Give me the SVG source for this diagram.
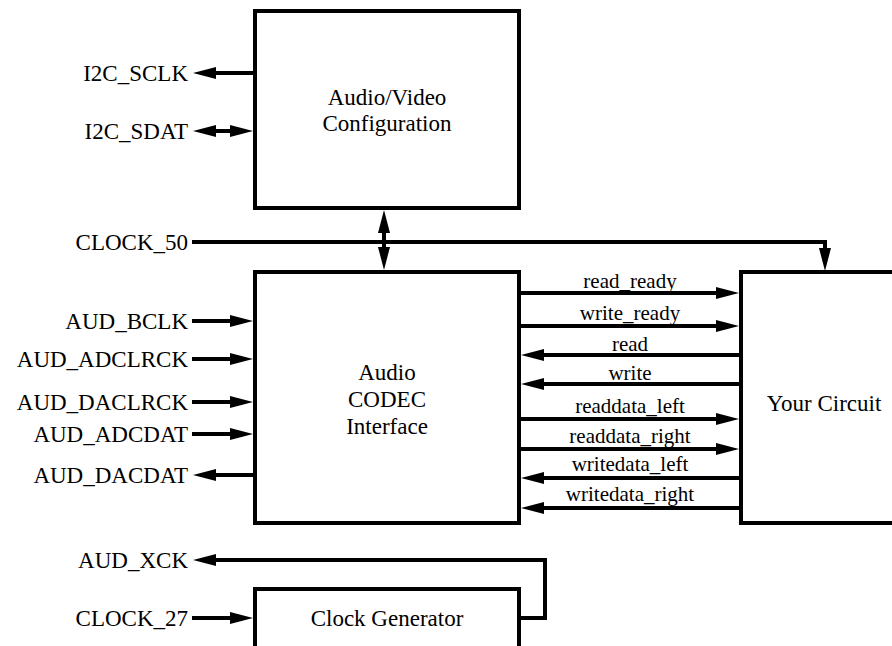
<svg xmlns="http://www.w3.org/2000/svg" width="892" height="646" viewBox="0 0 892 646">
<style>
.box{fill:#fff;stroke:#000;stroke-width:4}
.w{fill:none;stroke:#000;stroke-width:4}
text{font-family:"Liberation Serif","Times New Roman","DejaVu Serif",serif;font-size:23px;fill:#000}
.l{text-anchor:end}
.c{text-anchor:middle}
.s{font-size:21px;text-anchor:middle}
</style>
<defs>
<marker id="ah" markerUnits="userSpaceOnUse" viewBox="0 0 23 12" markerWidth="23" markerHeight="12" refX="0" refY="6" orient="auto-start-reverse"><path d="M0,0 L23,6 L0,12 z" fill="#000"/></marker>
</defs>
<rect width="892" height="646" fill="#fff"/>
<g id="avconfig"><rect class="box" x="255" y="11" width="264" height="197"/><text class="c" x="387" y="105">Audio/Video</text><text class="c" x="387" y="131">Configuration</text></g>
<g id="codec"><rect class="box" x="255" y="272" width="264" height="251"/><text class="c" x="387" y="380">Audio</text><text class="c" x="387" y="407">CODEC</text><text class="c" x="387" y="434">Interface</text></g>
<g id="circuit"><rect class="box" x="741" y="272" width="200" height="251"/><text class="c" x="824" y="411">Your Circuit</text></g>
<g id="clockgen"><rect class="box" x="255" y="589" width="264" height="100"/><text class="c" x="387" y="626">Clock Generator</text></g>
<g id="labels">
<text class="l" x="188" y="81">I2C_SCLK</text>
<text class="l" x="188" y="139">I2C_SDAT</text>
<text class="l" x="188" y="250">CLOCK_50</text>
<text class="l" x="188" y="329">AUD_BCLK</text>
<text class="l" x="188" y="367">AUD_ADCLRCK</text>
<text class="l" x="188" y="410">AUD_DACLRCK</text>
<text class="l" x="188" y="442">AUD_ADCDAT</text>
<text class="l" x="188" y="483">AUD_DACDAT</text>
<text class="l" x="188" y="568">AUD_XCK</text>
<text class="l" x="188" y="626">CLOCK_27</text>
<text class="s" x="630" y="288">read_ready</text>
<text class="s" x="630" y="320">write_ready</text>
<text class="s" x="630" y="351">read</text>
<text class="s" x="630" y="380">write</text>
<text class="s" x="630" y="413">readdata_left</text>
<text class="s" x="630" y="443">readdata_right</text>
<text class="s" x="630" y="471">writedata_left</text>
<text class="s" x="630" y="501">writedata_right</text>
</g>
<g id="connectors">
<path class="w" d="M255,73 H216" marker-end="url(#ah)"/>
<path class="w" d="M216,131 H230" marker-start="url(#ah)" marker-end="url(#ah)"/>
<path class="w" d="M192,242 H825 V248" marker-end="url(#ah)"/>
<path class="w" d="M384,233 V247" marker-start="url(#ah)" marker-end="url(#ah)"/>
<path class="w" d="M192,321 H230" marker-end="url(#ah)"/>
<path class="w" d="M192,359 H230" marker-end="url(#ah)"/>
<path class="w" d="M192,402 H230" marker-end="url(#ah)"/>
<path class="w" d="M192,434 H230" marker-end="url(#ah)"/>
<path class="w" d="M255,475 H216" marker-end="url(#ah)"/>
<path class="w" d="M519,618 H545 V560 H216" marker-end="url(#ah)"/>
<path class="w" d="M192,618 H230" marker-end="url(#ah)"/>
<path class="w" d="M519,293 H716" marker-end="url(#ah)"/>
<path class="w" d="M519,326 H716" marker-end="url(#ah)"/>
<path class="w" d="M741,355 H544" marker-end="url(#ah)"/>
<path class="w" d="M741,384 H544" marker-end="url(#ah)"/>
<path class="w" d="M519,419 H716" marker-end="url(#ah)"/>
<path class="w" d="M519,449 H716" marker-end="url(#ah)"/>
<path class="w" d="M741,478 H544" marker-end="url(#ah)"/>
<path class="w" d="M741,508 H544" marker-end="url(#ah)"/>
</g>
</svg>
